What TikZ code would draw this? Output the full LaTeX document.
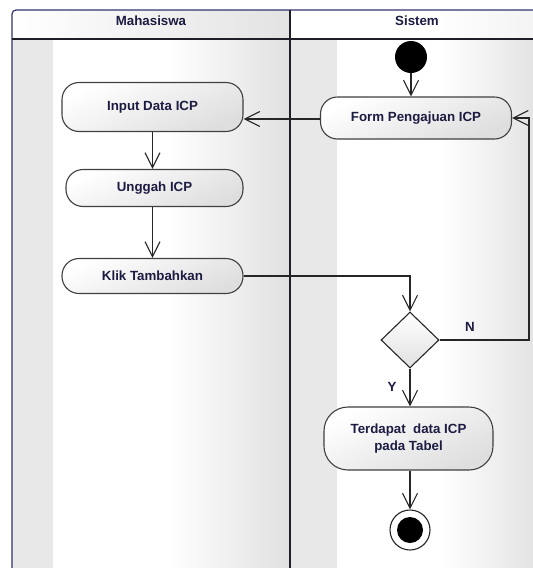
\documentclass[tikz,border=0pt]{standalone}
\usepackage{fontspec}
\setmainfont{Liberation Sans}
\usetikzlibrary{arrows.meta,shapes.geometric,calc}
\definecolor{txt}{RGB}{28,28,66}
\definecolor{frame}{RGB}{30,30,40}
\begin{document}
\begin{tikzpicture}[x=1pt,y=-1pt,
  lbl/.style={font=\bfseries\fontsize{13.3}{17}\selectfont, text=txt},
  act/.style={lbl, draw=black!75, line width=1.1pt, rounded corners=17pt,
    top color=white, bottom color=black!13, shading angle=25,
    inner sep=0pt, align=center},
  flow/.style={line width=1.2pt, draw=black!85,
    -{Straight Barb[length=15pt,width=15pt,line width=1.1pt]}},
  plain/.style={line width=1.2pt, draw=black!85}]
\useasboundingbox (0,0) rectangle (533,568);

% swimlane backgrounds
\fill[white] (12,10) rectangle (545,575);
\shade[left color=white, right color=black!11] (12,10) rectangle (290,39);
\shade[left color=white, right color=black!5] (430,10) rectangle (545,39);
\fill[black!9] (12,39) rectangle (53,575);
\shade[left color=white, right color=black!12] (168,39) rectangle (290,575);
\fill[black!9] (290,39) rectangle (337,575);
\shade[left color=white, right color=black!12] (440,39) rectangle (545,575);

% swimlane frame
\draw[line width=1.2pt, black!60!blue!60!gray, rounded corners=4pt] (12,575) -- (12,10) -- (545,10);
\draw[line width=1.6pt, frame] (12,39) -- (545,39);
\draw[line width=2pt, frame] (290,10) -- (290,575);
\node[lbl] (lane1) at (151,21) {Mahasiswa};
\node[lbl] (lane2) at (417,21) {Sistem};

% activity nodes
\node[circle, fill=black, minimum size=32pt, inner sep=0pt] (init) at (411,57) {};
\node[act, minimum width=191pt, minimum height=42pt] (form) at (416,118) {Form Pengajuan ICP};
\node[act, minimum width=181pt, minimum height=49pt] (input) at (152.5,107) {Input Data ICP};
\node[act, minimum width=177pt, minimum height=37pt] (unggah) at (154.5,188) {Unggah ICP};
\node[act, minimum width=181pt, minimum height=35pt] (klik) at (152.5,276) {Klik Tambahkan};
\node[diamond, draw=black!85, line width=1.1pt, top color=white, bottom color=black!12,
  minimum width=58pt, minimum height=56pt, inner sep=0pt] (dec) at (410,340) {};
\node[act, rounded corners=24pt, minimum width=169pt, minimum height=63pt] (cek) at (408.5,438.5)
  {Terdapat\ \ data ICP\\pada Tabel};
\node[circle, draw=black!85, line width=1.1pt, fill=white, minimum size=40pt, inner sep=0pt] (final) at (410,530) {};
\node[circle, fill=black, minimum size=26pt, inner sep=0pt] at (final) {};
\coordinate (nturn) at (529,340);

% control flow
\draw[flow] (init) -- (init |- form.north);
\draw[flow] (form.west |- 0,119) -- (input.east |- 0,119);
\draw[flow] (input.south) -- (input.south |- unggah.north);
\draw[flow] (unggah.south -| input.south) -- (klik.north);
\draw[flow] (klik.east) -| (dec.north);
\draw[flow] (dec.east) -- (nturn) |- (form.east);
\draw[flow] (dec.south) -- (dec.south |- cek.north);
\draw[flow] (cek.south -| final) -- (final.north);
\node[lbl] (nlab) at (470,327) {N};
\node[lbl] (ylab) at (392,387) {Y};
\end{tikzpicture}
\end{document}
